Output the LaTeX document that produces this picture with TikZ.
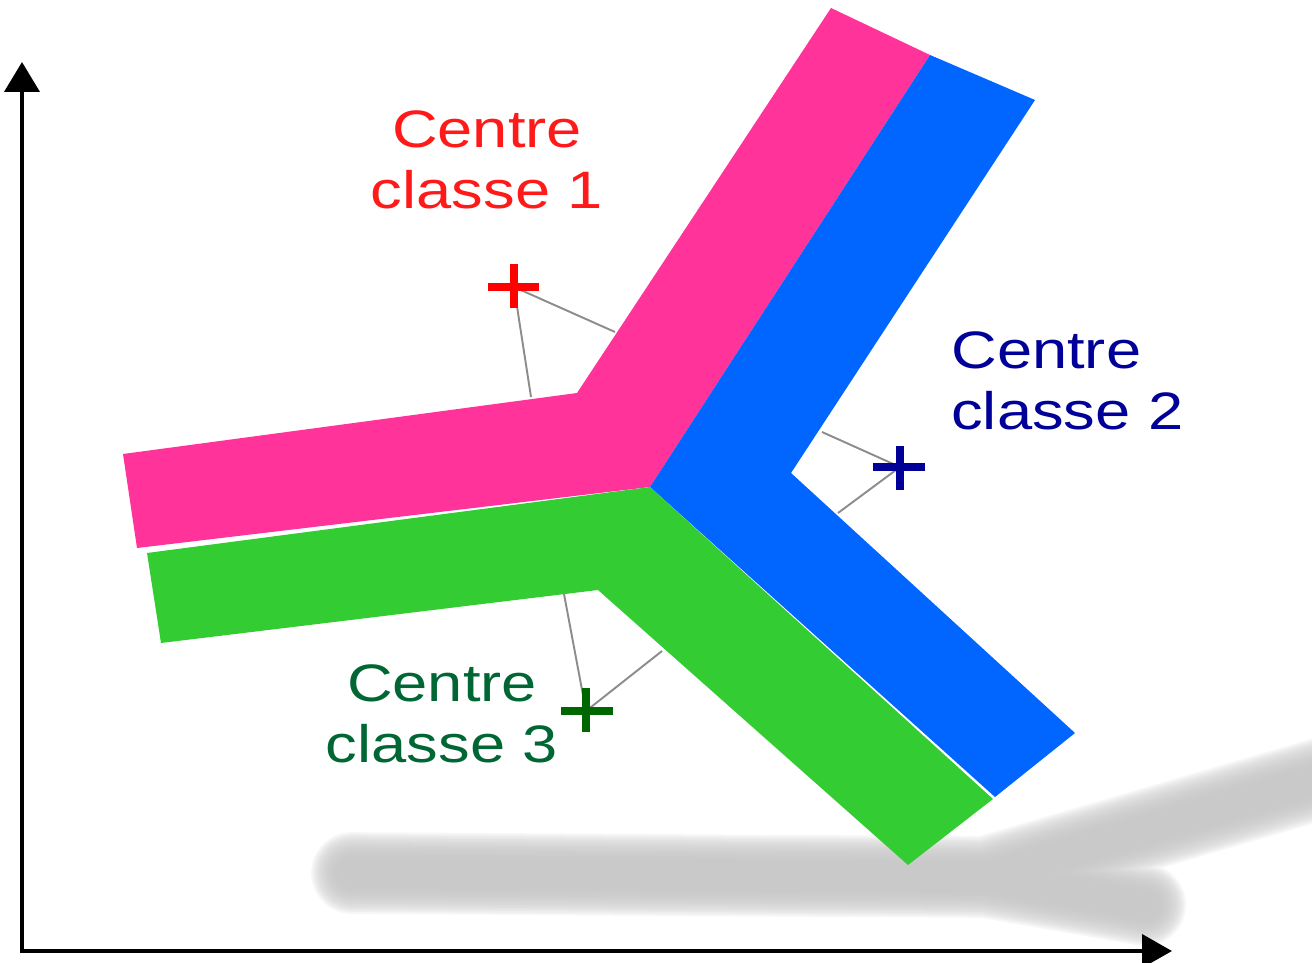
\documentclass[tikz,border=0pt]{standalone}
\usepackage{fontspec}
\newfontfamily\centrefont[FakeStretch=1.2]{Liberation Sans}
\usetikzlibrary{arrows.meta}

\definecolor{bandpink}{HTML}{FF3399}
\definecolor{bandblue}{HTML}{0066FF}
\definecolor{bandgreen}{HTML}{33CC33}
\definecolor{markred}{HTML}{FF0000}
\definecolor{markblue}{HTML}{000099}
\definecolor{markgreen}{HTML}{006600}
\definecolor{textred}{HTML}{FF1A1A}
\definecolor{textblue}{HTML}{000099}
\definecolor{textgreen}{HTML}{006633}

\def\shadowpath{(352,873) -- (985,877) -- (1145,905) (985,877) -- (1330,776)}

\begin{document}
\begin{tikzpicture}[x=0.02cm,y=-0.02cm,
  axis/.style={line width=2.3pt,{Triangle[length=6mm,width=7mm]}-{Triangle[length=6mm,width=6.6mm]}},
  blur/.style={draw=black!23,opacity=.16,line join=round,line cap=round},
  link/.style={draw=black!45,line width=1.1pt},
  plusmark/.style={line width=4.4pt},
  centrelbl/.style={font=\centrefont\fontsize{30}{35}\selectfont,inner sep=0pt}]

\useasboundingbox (0,0) rectangle (1312,963);

\foreach \w [evaluate=\w as \lw using \w*0.567] in {30,34,...,82}
  \draw[blur,line width=\lw pt] \shadowpath;

\coordinate (origin) at (22,951);
\coordinate (ytip) at (22,62);
\coordinate (xtip) at (1172,951);
\draw[axis] (ytip) -- (origin) -- (xtip);

\coordinate (centre) at (650,487);
\fill[bandpink] (123,454) -- (577,393) -- (831,8) -- (930,55) -- (centre) -- (137,548) -- cycle;
\fill[bandblue] (930,55) -- (1035,100) -- (791,473) -- (1075,733) -- (995,797) -- (centre) -- cycle;
\fill[bandgreen] (147,553) -- (centre) -- (993,799) -- (908,865) -- (598,590) -- (161,643) -- cycle;

\coordinate (mark1) at (514,287);
\coordinate (mark2) at (900,467);
\coordinate (mark3) at (586,711);
\coordinate (foot1a) at (531,397);
\coordinate (foot1b) at (615,332);
\coordinate (foot2a) at (822,432);
\coordinate (foot2b) at (838,513);
\coordinate (foot3a) at (564,594);
\coordinate (foot3b) at (662,651);

\draw[link] (mark1) -- (foot1a);
\draw[link] (mark1) -- (foot1b);
\draw[link] (mark2) -- (foot2a);
\draw[link] (mark2) -- (foot2b);
\draw[link] (mark3) -- (foot3a);
\draw[link] (mark3) -- (foot3b);

\draw[plusmark,markred] (mark1) +(-26,0) -- +(25,0) (mark1) +(0,-23) -- +(0,21);
\draw[plusmark,markblue] (mark2) +(-27,0) -- +(25,0) (mark2) +(0,-21) -- +(0,23);
\draw[plusmark,markgreen] (mark3) +(-25,0) -- +(27,0) (mark3) +(0,-23) -- +(0,21);

\node[centrelbl,textred,align=center] (centre1) at (487,160) {Centre\\classe 1};
\node[centrelbl,textblue,align=left,anchor=west] (centre2) at (951,381) {Centre\\classe 2};
\node[centrelbl,textgreen,align=center] (centre3) at (442,714) {Centre\\classe 3};
\end{tikzpicture}
\end{document}
